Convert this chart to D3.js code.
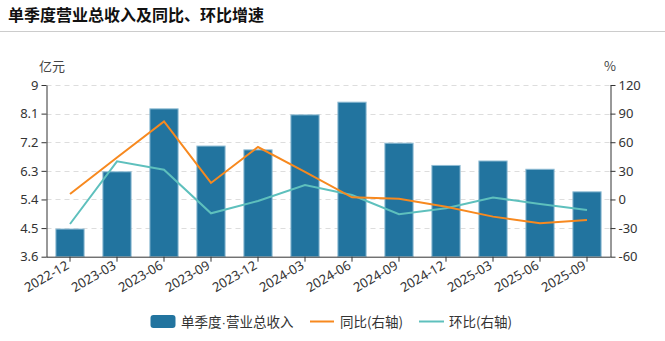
<!DOCTYPE html>
<html><head><meta charset="utf-8">
<script src="https://cdn.jsdelivr.net/npm/d3@7"></script>
<style>
html,body{margin:0;padding:0;background:#fff;}
svg{display:block;font-family:"Noto Sans CJK SC","Noto Sans",sans-serif;}
</style></head><body>
<svg id="c" width="665" height="341"></svg>
<script>
const categories = ["2022-12","2023-03","2023-06","2023-09","2023-12","2024-03","2024-06","2024-09","2024-12","2025-03","2025-06","2025-09"];
const revenue = [4.47,6.27,8.25,7.08,6.96,8.06,8.46,7.17,6.47,6.61,6.35,5.64];
const yoy = [5.7,44,81.9,17.3,55,29,2.3,0.8,-7.6,-18,-25,-21.5];
const qoq = [-25.7,40,31.2,-14.5,-1.6,15.2,4.7,-15.5,-9.3,2,-4.7,-11];
const leftTicks = [3.6,4.5,5.4,6.3,7.2,8.1,9];
const rightTicks = [-60,-30,0,30,60,90,120];
const title = "单季度营业总收入及同比、环比增速";
const legendLabels = ["单季度·营业总收入","同比(右轴)","环比(右轴)"];

const svg = d3.select("#c");
const W = 665, H = 341;
const m = {left:46.5, right:54.5, top:85, bottom:84.3};
const x0 = m.left, x1 = W - m.right, y0 = H - m.bottom, y1 = m.top;
const barColor = "#22749f", orange = "#f7891f", teal = "#5ec0bd", axisColor = "#333";

// title
svg.append("text").attr("x",8).attr("y",21).attr("font-size",16).attr("font-weight","bold").attr("fill","#111").text(title);
svg.append("line").attr("x1",0).attr("x2",W).attr("y1",31.5).attr("y2",31.5).attr("stroke","#ccc").attr("stroke-width",1);

const x = d3.scaleBand().domain(categories).range([x0,x1]).paddingInner(0.4).paddingOuter(0.2);
const yL = d3.scaleLinear().domain([3.6,9]).range([y0,y1]);
const yR = d3.scaleLinear().domain([-60,120]).range([y0,y1]);

// grid
svg.append("g").selectAll("line").data(leftTicks.slice(1)).join("line")
  .attr("x1",x0).attr("x2",x1).attr("y1",d=>Math.round(yL(d))+0.5).attr("y2",d=>Math.round(yL(d))+0.5)
  .attr("stroke","#ddd").attr("stroke-dasharray","5,4");

// bars
svg.append("g").selectAll("rect").data(revenue).join("rect")
  .attr("x",(d,i)=>x(categories[i])).attr("width",x.bandwidth())
  .attr("y",d=>yL(d)).attr("height",d=>y0-yL(d))
  .attr("fill",barColor).attr("stroke","#8fbcd4").attr("stroke-width",1);

// lines
const pts = arr => arr.map((v,i)=>[x(categories[i])+x.bandwidth()/2, yR(v)]);
svg.append("path").attr("d",d3.line()(pts(qoq))).attr("fill","none").attr("stroke",teal).attr("stroke-width",2);
svg.append("path").attr("d",d3.line()(pts(yoy))).attr("fill","none").attr("stroke",orange).attr("stroke-width",2);

// axes
const ax = svg.append("g").attr("transform",`translate(${x0},0)`)
  .call(d3.axisLeft(yL).tickValues(leftTicks).tickFormat(d=>d).tickSize(5).tickSizeOuter(0));
const ar = svg.append("g").attr("transform",`translate(${x1},0)`)
  .call(d3.axisRight(yR).tickValues(rightTicks).tickFormat(d=>d).tickSize(5).tickSizeOuter(0));
const xg = svg.append("g").attr("transform",`translate(0,${y0})`)
  .call(d3.axisBottom(x).tickSize(5).tickSizeOuter(0));
[ax,ar,xg].forEach(g=>{
  g.selectAll("path,line").attr("stroke",axisColor);
  g.selectAll("text").attr("fill","#333").attr("font-size",13).attr("font-family",'"Noto Sans","Noto Sans CJK SC",sans-serif');
});
xg.select(".domain").attr("d",`M${x0},0.5H${x1}`);
xg.selectAll("text").attr("text-anchor","end").attr("dy","0.3em").attr("dx","0")
  .attr("transform","translate(-2,8) rotate(-30)").attr("y",0).attr("x",0);

// units
svg.append("text").attr("x",52).attr("y",71).attr("text-anchor","middle").attr("font-size",13).attr("fill","#444").text("亿元");
svg.append("text").attr("x",610).attr("y",71).attr("text-anchor","middle").attr("font-size",13).attr("fill","#444").text("%");

// legend
const lg = svg.append("g").attr("font-size",13.5).attr("fill","#333");
lg.append("rect").attr("x",150.5).attr("y",315).attr("width",25).attr("height",13).attr("rx",3).attr("fill",barColor);
const parts = legendLabels[0].split("·");
const t0 = lg.append("text").attr("x",181).attr("y",326.5);
t0.append("tspan").text(parts[0]);
t0.append("tspan").attr("font-family","Liberation Sans, sans-serif").text("·");
t0.append("tspan").text(parts[1]);
lg.append("line").attr("x1",310).attr("x2",334).attr("y1",321.5).attr("y2",321.5).attr("stroke",orange).attr("stroke-width",2);
lg.append("text").attr("x",340).attr("y",326.5).text(legendLabels[1]);
lg.append("line").attr("x1",419).attr("x2",444).attr("y1",321.5).attr("y2",321.5).attr("stroke",teal).attr("stroke-width",2);
lg.append("text").attr("x",449).attr("y",326.5).text(legendLabels[2]);
</script></body></html>
